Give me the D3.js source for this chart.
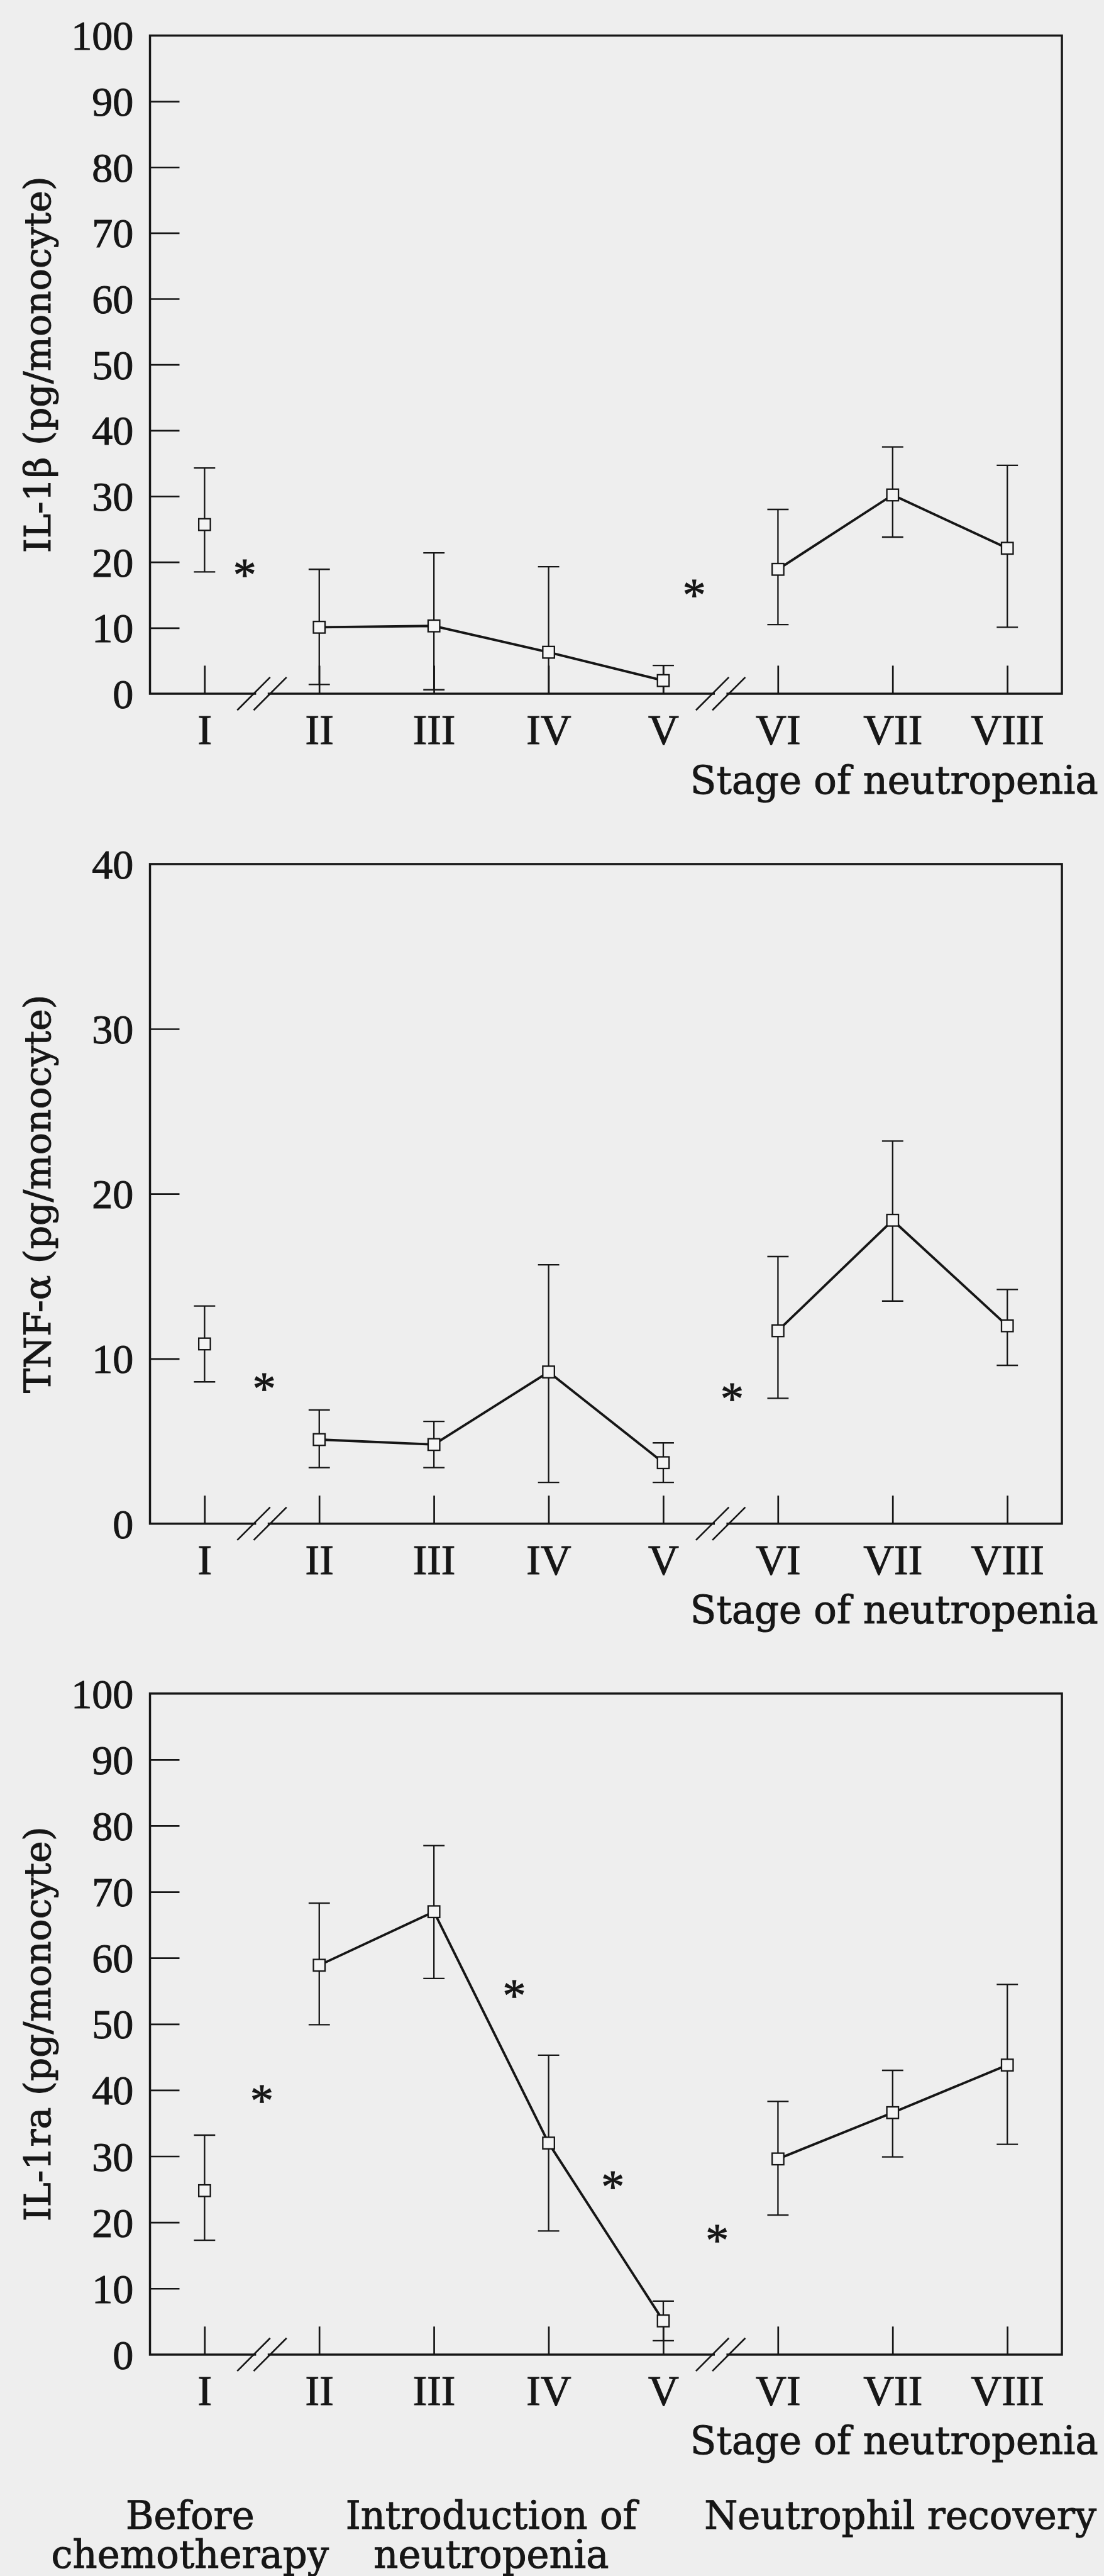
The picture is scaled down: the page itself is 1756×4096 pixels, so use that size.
<!DOCTYPE html>
<html>
<head>
<meta charset="utf-8">
<script src="https://cdn.jsdelivr.net/npm/d3@7"></script>
<style>
  html, body { margin: 0; padding: 0; background: #eeeeee; }
  svg { display: block; }
</style>
</head>
<body>
<script>
// ---------------- DATA ----------------
const categories = ["I", "II", "III", "IV", "V", "VI", "VII", "VIII"];

// IL-1β (pg/monocyte)
const il1bMean  = [25.7, 10.1, 10.3, 6.3, 2.0, 18.9, 30.2, 22.1];
const il1bUpper = [34.3, 18.9, 21.4, 19.3, 4.3, 28.0, 37.5, 34.7];
const il1bLower = [18.5, 1.4, 0.6, 0.0, 0.0, 10.5, 23.8, 10.1];
const il1bTicks = [0, 10, 20, 30, 40, 50, 60, 70, 80, 90, 100];
const il1bStars = [{ at: 0.35, value: 19.3 }, { at: 4.27, value: 16.3 }];

// TNF-α (pg/monocyte)
const tnfMean  = [10.9, 5.1, 4.8, 9.2, 3.7, 11.7, 18.4, 12.0];
const tnfUpper = [13.2, 6.9, 6.2, 15.7, 4.9, 16.2, 23.2, 14.2];
const tnfLower = [8.6, 3.4, 3.4, 2.5, 2.5, 7.6, 13.5, 9.6];
const tnfTicks = [0, 10, 20, 30, 40];
const tnfStars = [{ at: 0.52, value: 8.7 }, { at: 4.6, value: 8.1 }];

// IL-1ra (pg/monocyte)
const il1raMean  = [24.8, 58.9, 67.0, 32.0, 5.1, 29.6, 36.6, 43.8];
const il1raUpper = [33.2, 68.3, 77.0, 45.3, 8.1, 38.3, 43.0, 56.0];
const il1raLower = [17.3, 49.9, 56.9, 18.7, 2.1, 21.1, 29.9, 31.8];
const il1raTicks = [0, 10, 20, 30, 40, 50, 60, 70, 80, 90, 100];
const il1raStars = [{ at: 0.5, value: 39.7 }, { at: 2.7, value: 55.6 },
                    { at: 3.56, value: 26.7 }, { at: 4.47, value: 18.6 }];

// connected runs of stages (I stands alone)
const lineRuns = [["II", "III", "IV", "V"], ["VI", "VII", "VIII"]];
// axis breaks lie between these stage pairs
const breaks = [["I", "II"], ["V", "VI"]];

const xTitle = "Stage of neutropenia";
const groupLabels = [
  { lines: ["Before", "chemotherapy"], from: "I", to: "I" },
  { lines: ["Introduction of", "neutropenia"], from: "II", to: "V" },
  { lines: ["Neutrophil recovery"], from: "VI", to: "VIII" }
];

// ---------------- LAYOUT (reference pixel units) ----------------
const REF_W = 2282, REF_H = 5322;
const OUT_W = 1756, OUT_H = 4096;
const frameL = 310, frameR = 2195;
const ink = "#161616";
const bg = "#eeeeee";
const serifNum = "'Liberation Serif', 'Times New Roman', serif";
const serifTxt = "'DejaVu Serif', 'Liberation Serif', serif";
const textStroke = 1.3;
const groupNudge = [-30, 0, 16];

const panels = [
  { title: "IL-1β (pg/monocyte)", mean: il1bMean, upper: il1bUpper, lower: il1bLower,
    ticks: il1bTicks, stars: il1bStars, top: 73, bottom: 1433 },
  { title: "TNF-α (pg/monocyte)", mean: tnfMean, upper: tnfUpper, lower: tnfLower,
    ticks: tnfTicks, stars: tnfStars, top: 1785, bottom: 3148 },
  { title: "IL-1ra (pg/monocyte)", mean: il1raMean, upper: il1raUpper, lower: il1raLower,
    ticks: il1raTicks, stars: il1raStars, top: 3499, bottom: 4865 }
];

const svg = d3.select("body").append("svg")
  .attr("width", OUT_W).attr("height", OUT_H)
  .attr("viewBox", `0 0 ${REF_W} ${REF_H}`);

svg.append("rect").attr("width", REF_W).attr("height", REF_H).attr("fill", bg);

const x = d3.scalePoint().domain(categories).range([frameL, frameR]).padding(0.476);
const xAt = t => x(categories[0]) + t * x.step();

function inkText(sel) {
  return sel.attr("fill", ink).attr("stroke", ink).attr("stroke-width", textStroke);
}

panels.forEach(p => {
  const yMax = p.ticks[p.ticks.length - 1];
  const y = d3.scaleLinear().domain([0, yMax]).range([p.bottom, p.top]);
  const g = svg.append("g");

  // frame
  g.append("rect")
    .attr("x", frameL).attr("y", p.top)
    .attr("width", frameR - frameL).attr("height", p.bottom - p.top)
    .attr("fill", "none").attr("stroke", ink).attr("stroke-width", 4.5);

  // y axis (inward ticks)
  const yAxis = d3.axisLeft(y).tickValues(p.ticks).tickSize(-61).tickPadding(34)
    .tickFormat(d3.format("d"));
  const ya = g.append("g").attr("transform", `translate(${frameL},0)`).call(yAxis);
  ya.select(".domain").remove();
  ya.selectAll(".tick line")
    .attr("stroke", ink).attr("stroke-width", 3.5)
    .attr("display", d => (d === 0 || d === yMax) ? "none" : null);
  inkText(ya.selectAll(".tick text"))
    .attr("font-family", serifNum).attr("font-size", 86)
    .attr("dy", "0.34em");

  // x axis (inward ticks)
  const xAxis = d3.axisBottom(x).tickSize(-58).tickPadding(0);
  const xa = g.append("g").attr("transform", `translate(0,${p.bottom})`).call(xAxis);
  xa.select(".domain").remove();
  xa.selectAll(".tick line").attr("stroke", ink).attr("stroke-width", 3.5);
  inkText(xa.selectAll(".tick text"))
    .attr("font-family", serifNum).attr("font-size", 88)
    .attr("y", 104).attr("dy", 0);

  // axis breaks
  breaks.forEach(([a, b]) => {
    const cx = (x(a) + x(b)) / 2;
    g.append("line")
      .attr("x1", cx - 12).attr("x2", cx + 12)
      .attr("y1", p.bottom).attr("y2", p.bottom)
      .attr("stroke", bg).attr("stroke-width", 8);
    [-17, 17].forEach(off => {
      g.append("line")
        .attr("x1", cx + off - 34).attr("y1", p.bottom + 34)
        .attr("x2", cx + off + 34).attr("y2", p.bottom - 34)
        .attr("stroke", ink).attr("stroke-width", 3.5);
    });
  });

  // y title
  inkText(g.append("text"))
    .attr("transform", `translate(76,${(p.top + p.bottom) / 2}) rotate(-90)`)
    .attr("text-anchor", "middle").attr("dy", "0.36em")
    .attr("font-family", serifTxt).attr("font-size", 76)
    .text(p.title);

  // x title
  inkText(g.append("text"))
    .attr("x", 2270).attr("y", p.bottom + 206)
    .attr("text-anchor", "end")
    .attr("font-family", serifTxt).attr("font-size", 79)
    .text(xTitle);

  const rows = categories.map((c, i) => ({ c, m: p.mean[i], hi: p.upper[i], lo: p.lower[i] }));

  // error bars
  const eb = g.append("g").attr("stroke", ink).attr("stroke-width", 3);
  rows.forEach(r => {
    const cxp = x(r.c);
    eb.append("line").attr("x1", cxp).attr("x2", cxp).attr("y1", y(r.lo)).attr("y2", y(r.hi));
    eb.append("line").attr("x1", cxp - 22).attr("x2", cxp + 22).attr("y1", y(r.hi)).attr("y2", y(r.hi));
    if (r.lo > 0) {
      eb.append("line").attr("x1", cxp - 22).attr("x2", cxp + 22).attr("y1", y(r.lo)).attr("y2", y(r.lo));
    }
  });

  // connecting lines
  const line = d3.line().x(r => x(r.c)).y(r => y(r.m));
  lineRuns.forEach(run => {
    const pts = rows.filter(r => run.includes(r.c));
    g.append("path").attr("d", line(pts))
      .attr("fill", "none").attr("stroke", ink).attr("stroke-width", 5)
      .attr("stroke-linejoin", "round");
  });

  // square markers
  g.selectAll("rect.marker").data(rows).join("rect")
    .attr("class", "marker")
    .attr("x", r => x(r.c) - 12).attr("y", r => y(r.m) - 12)
    .attr("width", 24).attr("height", 24)
    .attr("fill", "#f4f4f4").attr("stroke", ink).attr("stroke-width", 3);

  // significance asterisks
  inkText(g.selectAll("text.star").data(p.stars).join("text"))
    .attr("class", "star")
    .attr("x", s => xAt(s.at)).attr("y", s => y(s.value))
    .attr("dy", "0.52em").attr("text-anchor", "middle")
    .attr("font-family", serifNum).attr("font-size", 96)
    .text("*");
});

// group labels under the last panel
const gl = inkText(svg.append("g"))
  .attr("font-family", serifTxt).attr("font-size", 79)
  .attr("text-anchor", "middle");
groupLabels.forEach((grp, gi) => {
  const cx = (x(grp.from) + x(grp.to)) / 2 + groupNudge[gi];
  grp.lines.forEach((t, i) => {
    gl.append("text").attr("x", cx).attr("y", 5225 + i * 81).text(t);
  });
});
</script>
</body>
</html>
